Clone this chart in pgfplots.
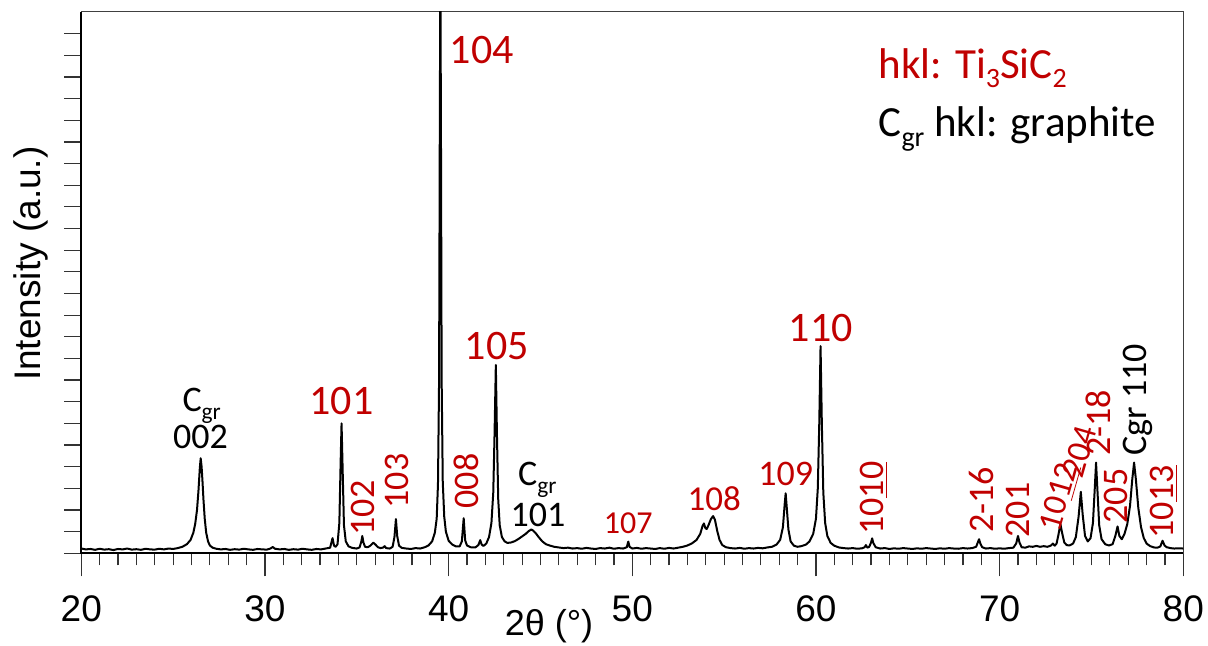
\documentclass[border=0pt]{standalone}
\usepackage{pgfplots}
\pgfplotsset{compat=1.18}
\usepackage{fontspec}
\setmainfont{Liberation Sans}
\newfontfamily\calfont{Carlito}
\definecolor{hklred}{RGB}{192,0,0}
\newcommand\LA{\calfont\fontsize{21bp}{25bp}\selectfont}
\newcommand\LB{\calfont\fontsize{18bp}{21bp}\selectfont}
\newcommand\LC{\calfont\fontsize{16bp}{19bp}\selectfont}
\newcommand\LL{\calfont\fontsize{21.5bp}{26bp}\selectfont}
\newcommand\sub[1]{\raisebox{-0.22em}{\scalebox{0.65}{#1}}}
\pgfplotstableread{
x y
20.0 0.22
20.25 0.18
20.5 0.20
20.75 0.16
21.0 0.21
21.25 0.17
21.5 0.19
21.75 0.15
22.0 0.20
22.25 0.18
22.5 0.22
22.75 0.17
23.0 0.19
23.25 0.16
23.5 0.21
23.75 0.18
24.0 0.17
24.25 0.21
24.5 0.18
24.75 0.22
25.0 0.20
25.25 0.24
25.5 0.30
25.75 0.42
25.95 0.62
26.1 0.95
26.2 1.35
26.3 2.0
26.38 2.9
26.45 3.9
26.5 4.39
26.55 4.0
26.6 3.3
26.65 2.5
26.72 1.6
26.8 0.95
26.9 0.55
27.0 0.36
27.15 0.26
27.35 0.21
27.6 0.18
27.85 0.20
28.1 0.16
28.35 0.19
28.6 0.17
28.85 0.21
29.1 0.18
29.35 0.16
29.6 0.20
29.85 0.18
30.1 0.17
30.3 0.22
30.42 0.29
30.55 0.21
30.8 0.18
31.05 0.20
31.3 0.16
31.55 0.19
31.8 0.17
32.05 0.21
32.3 0.18
32.55 0.16
32.8 0.20
33.05 0.18
33.3 0.22
33.55 0.26
33.68 0.70
33.76 0.35
33.85 0.30
33.95 0.42
34.05 1.4
34.12 4.2
34.17 6.0
34.22 4.2
34.3 1.3
34.4 0.55
34.55 0.32
34.75 0.25
35.0 0.22
35.15 0.27
35.25 0.55
35.3 0.80
35.36 0.50
35.45 0.30
35.6 0.28
35.75 0.36
35.9 0.49
36.02 0.40
36.15 0.28
36.3 0.24
36.45 0.27
36.52 0.33
36.6 0.24
36.8 0.22
36.95 0.30
37.05 0.75
37.13 1.58
37.2 0.80
37.3 0.35
37.45 0.25
37.7 0.22
37.95 0.20
38.2 0.24
38.45 0.22
38.7 0.28
38.9 0.36
39.1 0.55
39.25 0.95
39.35 1.6
39.42 3.2
39.48 8.0
39.52 20
39.55 27
39.58 20
39.62 8.0
39.68 3.3
39.76 1.7
39.85 1.0
40.0 0.58
40.2 0.40
40.4 0.32
40.6 0.32
40.72 0.55
40.82 1.62
40.9 0.60
41.0 0.36
41.2 0.28
41.45 0.27
41.62 0.38
41.72 0.61
41.8 0.40
41.9 0.34
42.05 0.45
42.2 0.75
42.33 1.4
42.43 2.8
42.5 5.5
42.57 8.7
42.63 5.5
42.7 2.5
42.78 1.3
42.9 0.75
43.05 0.55
43.2 0.48
43.4 0.50
43.6 0.56
43.8 0.66
44.0 0.78
44.2 0.90
44.35 1.02
44.5 1.10
44.6 1.05
44.75 0.92
44.9 0.75
45.1 0.55
45.3 0.42
45.5 0.36
45.75 0.30
46.0 0.27
46.25 0.24
46.5 0.26
46.75 0.22
47.0 0.24
47.25 0.21
47.5 0.25
47.75 0.22
48.0 0.20
48.25 0.24
48.5 0.22
48.75 0.26
49.0 0.21
49.25 0.24
49.5 0.22
49.7 0.28
49.78 0.54
49.85 0.30
50.0 0.22
50.25 0.25
50.5 0.21
50.75 0.24
51.0 0.22
51.25 0.20
51.5 0.24
51.75 0.21
52.0 0.25
52.25 0.22
52.5 0.26
52.75 0.30
53.0 0.36
53.25 0.46
53.5 0.62
53.7 0.90
53.82 1.25
53.9 1.38
53.97 1.18
54.05 1.12
54.15 1.30
54.28 1.58
54.4 1.72
54.5 1.55
54.62 1.05
54.75 0.62
54.9 0.38
55.1 0.28
55.35 0.24
55.6 0.22
55.85 0.25
56.1 0.21
56.35 0.24
56.6 0.22
56.85 0.25
57.1 0.23
57.35 0.27
57.6 0.30
57.85 0.40
58.05 0.62
58.2 1.2
58.3 2.3
58.35 2.77
58.42 2.0
58.5 1.1
58.62 0.55
58.8 0.35
59.0 0.30
59.2 0.33
59.45 0.40
59.65 0.55
59.85 0.90
60.0 1.6
60.1 3.0
60.18 6.0
60.25 9.57
60.32 6.0
60.4 2.8
60.5 1.4
60.62 0.80
60.8 0.48
61.0 0.35
61.25 0.27
61.5 0.24
61.75 0.22
62.0 0.24
62.25 0.21
62.5 0.23
62.65 0.28
62.72 0.38
62.8 0.26
62.9 0.30
63.0 0.50
63.06 0.69
63.12 0.48
63.25 0.28
63.5 0.22
63.75 0.24
64.0 0.20
64.25 0.23
64.5 0.21
64.75 0.24
65.0 0.22
65.25 0.20
65.5 0.23
65.75 0.21
66.0 0.24
66.25 0.22
66.5 0.20
66.75 0.23
67.0 0.21
67.25 0.24
67.5 0.22
67.75 0.21
68.0 0.24
68.25 0.22
68.5 0.24
68.72 0.30
68.82 0.52
68.88 0.65
68.95 0.45
69.05 0.28
69.25 0.22
69.5 0.24
69.75 0.21
70.0 0.23
70.25 0.21
70.5 0.24
70.75 0.26
70.9 0.45
71.0 0.80
71.08 0.50
71.2 0.28
71.4 0.26
71.6 0.32
71.8 0.30
72.0 0.34
72.2 0.30
72.4 0.33
72.6 0.30
72.8 0.36
72.9 0.45
73.0 0.35
73.1 0.45
73.2 0.85
73.31 1.35
73.4 0.95
73.52 0.50
73.65 0.38
73.8 0.36
74.0 0.45
74.15 0.75
74.3 1.7
74.42 2.84
74.52 1.8
74.65 0.8
74.8 0.55
74.95 0.70
75.08 1.4
75.18 3.0
75.25 4.19
75.32 3.0
75.42 1.3
75.55 0.65
75.75 0.42
75.95 0.36
76.15 0.42
76.3 0.80
76.42 1.24
76.52 0.80
76.65 0.65
76.8 0.90
76.95 1.35
77.1 2.2
77.22 3.4
77.32 4.19
77.42 3.4
77.55 2.1
77.7 1.2
77.85 0.70
78.0 0.45
78.2 0.33
78.4 0.27
78.6 0.26
78.75 0.32
78.87 0.58
78.98 0.36
79.1 0.28
79.3 0.24
79.5 0.22
79.75 0.23
80.0 0.22
}\xrd
\begin{document}
\begin{tikzpicture}
\path[use as bounding box] (0,0) rectangle (604bp,323bp);
\begin{axis}[
  at={(40.65bp,46.35bp)}, anchor=south west,
  scale only axis, width=551bp, height=270.65bp,
  xmin=20, xmax=80, ymin=0, ymax=25,
  clip mode=individual,
  xtick={20,30,...,80}, minor xtick={21,...,79},
  ytick={0,1,...,24}, yticklabels={},
  tick pos=left,
  tick align=outside,
  major tick length=11.5bp, minor tick length=6bp,
  ytick style={/pgfplots/major tick length=8.5bp},
  every tick/.style={black!80, line width=0.6bp},
  axis line style={line width=0.5bp, black!75},
  /pgf/number format/assume math mode=true,
  xticklabel style={font=\fontsize{18.5bp}{22bp}\selectfont, yshift=-6bp},
  xlabel={2θ (°)},
  xlabel style={font=\fontsize{18bp}{22bp}\selectfont, at={(rel axis cs:0.4244,-0.151)}, anchor=base},
  ylabel={Intensity (a.u.)},
  ylabel style={font=\fontsize{18.5bp}{22bp}\selectfont, at={(rel axis cs:-0.0456,0.535)}, anchor=center},
]
\addplot[black, line width=1bp, line join=round] table[x=x,y=y] {\xrd};
\draw[line width=1.1bp, black] (rel axis cs:0,1) -- (rel axis cs:0,0) -- (rel axis cs:1,0);
% Ti3SiC2 labels (red)
\begin{scope}[every node/.style={text=hklred, inner sep=0pt}]
\node[anchor=base west, font=\LA] at (axis cs:40.04,22.63) {104};
\node[anchor=base, font=\LA] at (axis cs:34.17,6.43) {101};
\node[anchor=base, font=\LA] at (axis cs:42.62,8.93) {105};
\node[anchor=base, font=\LA] at (axis cs:60.27,9.76) {110};
\node[anchor=base, font=\LC] at (axis cs:49.78,0.92) {107};
\node[anchor=base, font=\calfont\fontsize{17.5bp}{20bp}\selectfont] at (axis cs:54.46,1.97) {108};
\node[anchor=base, font=\LB] at (axis cs:58.36,3.15) {109};
\node[rotate=90, anchor=center, font=\LB] at (axis cs:40.98,3.34) {008};
\node[rotate=90, anchor=center, font=\LB] at (axis cs:35.33,2.09) {102};
\node[rotate=90, anchor=center, font=\LB] at (axis cs:37.18,3.34) {103};
\node[rotate=90, anchor=base, font=\LB] at (axis cs:63.67,2.55) {10\underline{10}};
\node[rotate=90, anchor=base, font=\LB] at (axis cs:69.69,2.46) {2-16};
\node[rotate=90, anchor=base, font=\LB] at (axis cs:71.65,2.0) {201};
\node[rotate=74, anchor=center, font=\calfont\fontsize{17bp}{20bp}\selectfont] at (axis cs:73.28,2.58) {10\underline{12}};
\node[rotate=74, anchor=center, font=\calfont\fontsize{17bp}{20bp}\selectfont] at (axis cs:74.34,4.68) {204};
\node[rotate=90, anchor=base, font=\LB] at (axis cs:76.01,6.02) {2-18};
\node[rotate=90, anchor=base, font=\LB] at (axis cs:76.98,2.65) {205};
\node[rotate=90, anchor=base, font=\LB] at (axis cs:79.45,2.37) {10\underline{13}};
\end{scope}
% graphite labels (black)
\begin{scope}[every node/.style={text=black, inner sep=0pt}]
\node[anchor=base, font=\LB] at (axis cs:26.555,6.53) {C\sub{gr}};
\node[anchor=base, font=\LB] at (axis cs:26.49,4.85) {002};
\node[anchor=base, font=\LB] at (axis cs:44.83,3.15) {C\sub{gr}};
\node[anchor=base, font=\LB] at (axis cs:44.87,1.26) {101};
\node[rotate=90, anchor=base, font=\LB] at (axis cs:78.01,7.08) {Cgr 110};
% legend text
\node[anchor=base west, font=\LL, text=hklred] at (axis cs:63.39,21.94) {hkl: Ti\sub{3}SiC\sub{2}};
\node[anchor=base west, font=\LL] at (axis cs:63.39,19.24) {C\sub{gr} hkl: graphite};
\end{scope}
\end{axis}
\end{tikzpicture}
\end{document}
